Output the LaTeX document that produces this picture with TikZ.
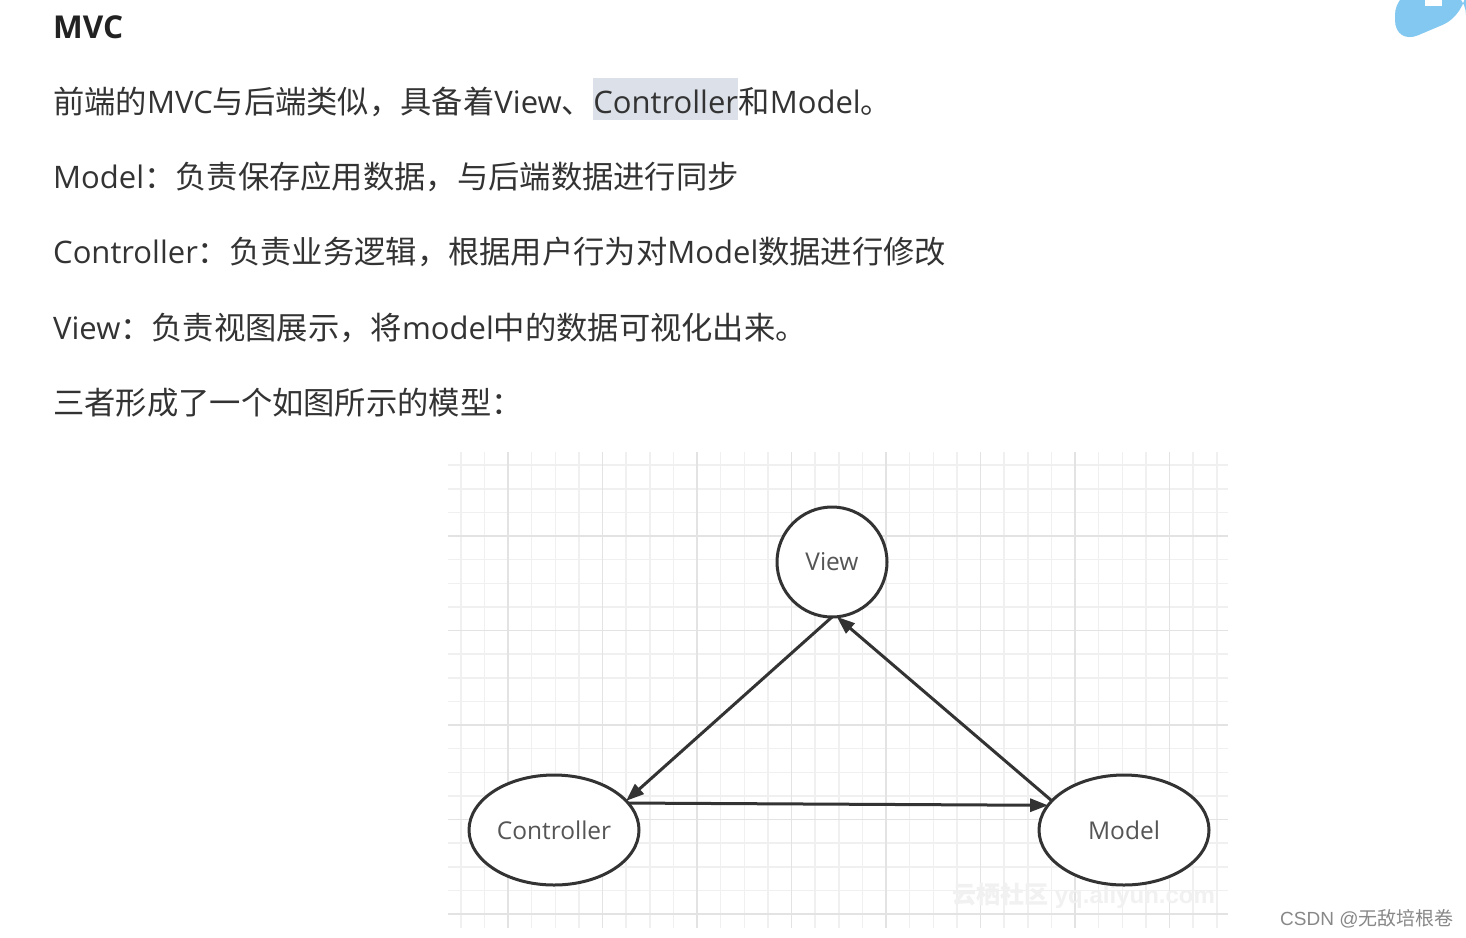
\documentclass[tikz,border=0pt]{standalone}
\usepackage{fontspec}
\setmainfont{Open Sans}
\newfontfamily\cjk{Noto Sans CJK SC}
\newfontfamily\arialf{Liberation Sans}
\usetikzlibrary{shapes.geometric,arrows.meta}
\definecolor{bodytext}{HTML}{333333}
\definecolor{headtext}{HTML}{222222}
\definecolor{hilite}{HTML}{DCE1E9}
\definecolor{gridmin}{HTML}{F0F0F0}
\definecolor{gridmaj}{HTML}{E3E3E3}
\definecolor{edgecol}{HTML}{333333}
\definecolor{nodetext}{HTML}{555555}
\definecolor{tabblue}{HTML}{82C8F0}
\definecolor{wmark}{HTML}{F1F1F1}
\definecolor{csdn}{HTML}{888888}
\newcommand{\zh}[1]{{\cjk\fontsize{31.3}{36}\selectfont #1}}
\newcommand{\zhs}[1]{{\cjk #1}}
\tikzset{
  line/.style={anchor=base west, inner sep=0pt, text=bodytext, font=\fontsize{31}{36}\selectfont},
  gminor/.style={draw=gridmin, line width=1.5pt},
  gmajor/.style={draw=gridmaj, line width=1.5pt},
  circnode/.style={circle, draw=edgecol, line width=3pt, fill=white, minimum size=110pt, inner sep=0pt, outer sep=0pt, text=nodetext, font=\fontsize{24.5}{28}\selectfont},
  ellnode/.style={ellipse, draw=edgecol, line width=3pt, fill=white, minimum width=170pt, minimum height=110pt, inner sep=0pt, outer sep=0pt, text=nodetext, font=\fontsize{24.5}{28}\selectfont},
  arr/.style={draw=edgecol, line width=3pt, -{Triangle[length=18pt,width=13pt]}}
}
\begin{document}
\begin{tikzpicture}[x=1pt,y=-1pt]
\useasboundingbox (0,0) rectangle (1466,937);
\fill[white] (0,0) rectangle (1466,937);
% top-right blue tab
\fill[tabblue, rounded corners=25pt] (1395,-10) -- (1395,45) -- (1466,15) -- (1466,-10) -- cycle;
\fill[white] (1425,0) rectangle (1442,6);
% heading
\node[anchor=base west, inner sep=0pt, text=headtext, font=\bfseries\fontsize{31.5}{36}\selectfont] (head) at (53,38) {MVC};
% line 1 with highlighted word
\node[line] (l1a) at (53,113) {\zh{前端的}MVC\zh{与后端类似，具备着}View\zh{、}};
\node[line, fill=hilite, text height=35pt, text depth=7pt] (l1b) at (l1a.base east) {Controller};
\node[line] (l1c) at (l1b.base east) {\zh{和}Model\zh{。}};
\node[line] (l2) at (53,188) {Model\zh{：负责保存应用数据，与后端数据进行同步}};
\node[line] (l3) at (53,263.5) {Controller\zh{：负责业务逻辑，根据用户行为对}Model\zh{数据进行修改}};
\node[line] (l4) at (53,339) {View\zh{：负责视图展示，将}model\zh{中的数据可视化出来。}};
\node[line] (l5) at (53,414) {\zh{三者形成了一个如图所示的模型：}};
% grid
\foreach \k in {-2,...,30} \draw[gminor] ({508+23.625*\k},452) -- ({508+23.625*\k},928);
\foreach \k in {-3,...,16} \draw[gminor] (448,{536+23.625*\k}) -- (1228,{536+23.625*\k});
\foreach \k in {0,...,7} \draw[gmajor] ({508+94.5*\k},452) -- ({508+94.5*\k},928);
\foreach \k in {0,...,4} \draw[gmajor] (448,{536+94.5*\k}) -- (1228,{536+94.5*\k});
% watermark
\node[anchor=base west, inner sep=0pt, text=wmark, font=\arialf\bfseries\fontsize{24}{28}\selectfont] (wm) at (952,903) {\zhs{云栖社区} yq.aliyun.com};
% nodes
\node[circnode] (view) at (832,562) {View};
\node[ellnode] (ctrl) at (554,830) {Controller};
\node[ellnode] (model) at (1124,830) {Model};
% connectors
\draw[arr] (view.-90) -- (ctrl.22);
\draw[arr] (model.158) -- (view.-85);
\draw[arr] (ctrl.20) -- (model.162);
% footer
\node[anchor=base west, inner sep=0pt, text=csdn, font=\arialf\fontsize{19}{22}\selectfont] (foot) at (1280,925) {CSDN @\zhs{无敌培根卷}};
\end{tikzpicture}
\end{document}
